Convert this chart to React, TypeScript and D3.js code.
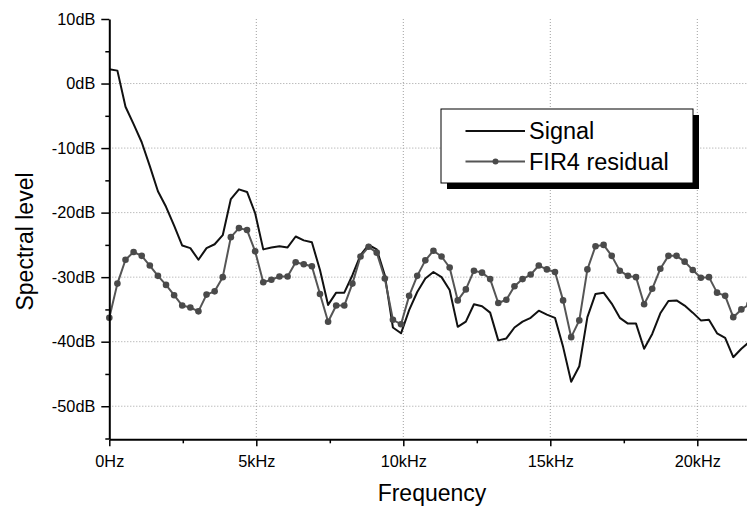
import React, { useEffect, useRef } from "react";
import * as d3 from "d3";

const binHz = 22050 / 80;

const signalDb = [
  2.2, 2.0, -3.6, -6.3, -9.1, -12.8, -16.7, -19.1, -22.0, -25.1,
  -25.5, -27.3, -25.5, -24.9, -23.5, -17.9, -16.4, -16.8, -20.1, -25.7,
  -25.4, -25.2, -25.4, -23.7, -24.3, -24.6, -28.9, -34.3, -32.4, -32.4,
  -29.7, -26.6, -25.0, -25.7, -29.7, -37.8, -38.7, -35.1, -32.3, -30.2,
  -29.2, -30.0, -32.0, -37.7, -36.9, -34.2, -34.5, -35.5, -39.8, -39.5,
  -37.8, -36.9, -36.3, -35.2, -35.8, -36.3, -40.8, -46.2, -43.8, -36.2,
  -32.6, -32.4, -34.1, -36.3, -37.2, -37.2, -41.1, -38.8, -35.6, -33.7,
  -33.6, -34.4, -35.5, -36.7, -36.6, -38.7, -39.4, -42.4, -41.1, -40.0,
];

const residualDb = [
  -36.3, -31.0, -27.3, -26.1, -26.7, -28.2, -29.8, -31.2, -32.8, -34.4,
  -34.7, -35.3, -32.7, -32.2, -30.0, -23.8, -22.4, -22.7, -26.0, -30.8,
  -30.4, -29.9, -29.9, -27.7, -28.0, -28.3, -32.6, -36.9, -34.4, -34.4,
  -31.0, -26.8, -25.3, -26.2, -30.2, -36.6, -37.3, -32.9, -29.8, -27.4,
  -25.9, -26.8, -28.5, -33.6, -31.9, -29.0, -29.3, -30.3, -34.0, -33.5,
  -31.4, -30.3, -29.6, -28.2, -28.8, -29.2, -33.6, -39.3, -36.7, -28.8,
  -25.2, -25.0, -26.7, -29.0, -29.8, -30.0, -34.2, -31.8, -28.7, -26.7,
  -26.7, -27.6, -28.9, -30.1, -30.0, -32.4, -32.9, -36.2, -35.0, -34.2,
];

const yMajorTicks = [10, 0, -10, -20, -30, -40, -50];
const yMinorTicks = [5, -5, -15, -25, -35, -45, -55];
const yGridTicks = [0, -10, -20, -30, -40, -50];
const xMajorTicks = [0, 5000, 10000, 15000, 20000];
const xMinorTicks = [2500, 7500, 12500, 17500];
const xGridTicks = [5000, 10000, 15000, 20000];
const seriesNames = ["Signal", "FIR4 residual"];

const W = 747;
const H = 506;
const FONT = "'Liberation Sans', Arial, Helvetica, sans-serif";

export default function App() {
  const ref = useRef<SVGSVGElement>(null);

  useEffect(() => {
    const svg = d3.select(ref.current);
    svg.selectAll("*").remove();

    const x = d3.scaleLinear().domain([0, 22050]).range([109.3, 109.3 + 22.05 * 29.4]);
    const y = d3.scaleLinear().domain([-55, 10]).range([438.5, 19]);
    const x0 = x(0);
    const yBottom = y(-55);
    const yTop = y(10);

    // grid
    const grid = svg.append("g");
    grid
      .selectAll("line.h")
      .data(yGridTicks)
      .join("line")
      .attr("x1", x0)
      .attr("x2", W)
      .attr("y1", (d) => y(d))
      .attr("y2", (d) => y(d))
      .attr("stroke", "#a0a0a0")
      .attr("stroke-width", 1)
      .attr("stroke-dasharray", "1 2");
    grid
      .selectAll("line.v")
      .data(xGridTicks)
      .join("line")
      .attr("x1", (d) => x(d))
      .attr("x2", (d) => x(d))
      .attr("y1", yTop)
      .attr("y2", yBottom)
      .attr("stroke", "#a0a0a0")
      .attr("stroke-width", 1)
      .attr("stroke-dasharray", "1 2");

    // lines
    const line = d3
      .line<number>()
      .x((_, i) => x(i * binHz))
      .y((d) => y(d));

    svg
      .append("path")
      .datum(signalDb)
      .attr("d", line)
      .attr("fill", "none")
      .attr("stroke", "#111")
      .attr("stroke-width", 2)
      .attr("stroke-linejoin", "round");

    svg
      .append("path")
      .datum(residualDb)
      .attr("d", line)
      .attr("fill", "none")
      .attr("stroke", "#555")
      .attr("stroke-width", 2)
      .attr("stroke-linejoin", "round");

    svg
      .append("g")
      .selectAll("circle")
      .data(residualDb)
      .join("circle")
      .attr("cx", (_, i) => x(i * binHz))
      .attr("cy", (d) => y(d))
      .attr("r", 3.3)
      .attr("fill", "#4a4a4a");

    // axes
    const styleAxis = (g: any, fs: number) => {
      g.select(".domain").attr("stroke", "#000").attr("stroke-width", 2);
      g.selectAll(".tick line").attr("stroke", "#000").attr("stroke-width", 1.5);
      g.selectAll("text").attr("font-family", FONT).attr("font-size", fs).attr("fill", "#000");
      g.attr("font-family", FONT);
    };

    const yAxis = svg
      .append("g")
      .attr("transform", `translate(${x0},0)`)
      .call(
        d3
          .axisLeft(y)
          .tickValues(yMajorTicks)
          .tickSize(8)
          .tickSizeOuter(0)
          .tickPadding(6)
          .tickFormat((d: any) => `${d}dB`)
      );
    styleAxis(yAxis, 16.3);

    const yMinor = svg
      .append("g")
      .attr("transform", `translate(${x0},0)`)
      .call(d3.axisLeft(y).tickValues(yMinorTicks).tickSize(4).tickSizeOuter(0).tickFormat(() => ""));
    yMinor.select(".domain").remove();
    yMinor.selectAll(".tick line").attr("stroke", "#000").attr("stroke-width", 1.5);

    const xAxis = svg
      .append("g")
      .attr("transform", `translate(0,${yBottom + 0.8})`)
      .call(
        d3
          .axisBottom(x)
          .tickValues(xMajorTicks)
          .tickSize(7)
          .tickSizeOuter(0)
          .tickPadding(9)
          .tickFormat((d: any) => (d === 0 ? "0Hz" : `${d / 1000}kHz`))
      );
    styleAxis(xAxis, 16.3);

    const xMinor = svg
      .append("g")
      .attr("transform", `translate(0,${yBottom + 0.8})`)
      .call(d3.axisBottom(x).tickValues(xMinorTicks).tickSize(4).tickSizeOuter(0).tickFormat(() => ""));
    xMinor.select(".domain").remove();
    xMinor.selectAll(".tick line").attr("stroke", "#000").attr("stroke-width", 1.5);

    // axis titles
    svg
      .append("text")
      .attr("x", 432)
      .attr("y", 500.5)
      .attr("text-anchor", "middle")
      .attr("font-family", FONT)
      .attr("font-size", 23)
      .text("Frequency");

    svg
      .append("text")
      .attr("transform", `translate(32.5,241.5) rotate(-90)`)
      .attr("text-anchor", "middle")
      .attr("font-family", FONT)
      .attr("font-size", 23)
      .text("Spectral level");

    // legend
    const lg = svg.append("g");
    lg.append("rect").attr("x", 447).attr("y", 115).attr("width", 252).attr("height", 74).attr("fill", "#000");
    lg.append("rect")
      .attr("x", 441)
      .attr("y", 109)
      .attr("width", 252)
      .attr("height", 74)
      .attr("fill", "#fff")
      .attr("stroke", "#000")
      .attr("stroke-width", 1);

    const legendRows = [
      { name: seriesNames[0], y: 131, color: "#111", marker: false },
      { name: seriesNames[1], y: 161.5, color: "#555", marker: true },
    ];
    legendRows.forEach((r) => {
      lg.append("line")
        .attr("x1", 465.5)
        .attr("x2", 525)
        .attr("y1", r.y)
        .attr("y2", r.y)
        .attr("stroke", r.color)
        .attr("stroke-width", 2);
      if (r.marker) {
        lg.append("circle").attr("cx", 495.5).attr("cy", r.y).attr("r", 3).attr("fill", "#4a4a4a");
      }
      lg.append("text")
        .attr("x", 529)
        .attr("y", r.y)
        .attr("dy", "0.35em")
        .attr("font-family", FONT)
        .attr("font-size", 23.5)
        .text(r.name);
    });
  }, []);

  return (
    <svg
      ref={ref}
      width={W}
      height={H}
      style={{ position: "absolute", left: 0, top: 0, background: "#fff" }}
    />
  );
}
